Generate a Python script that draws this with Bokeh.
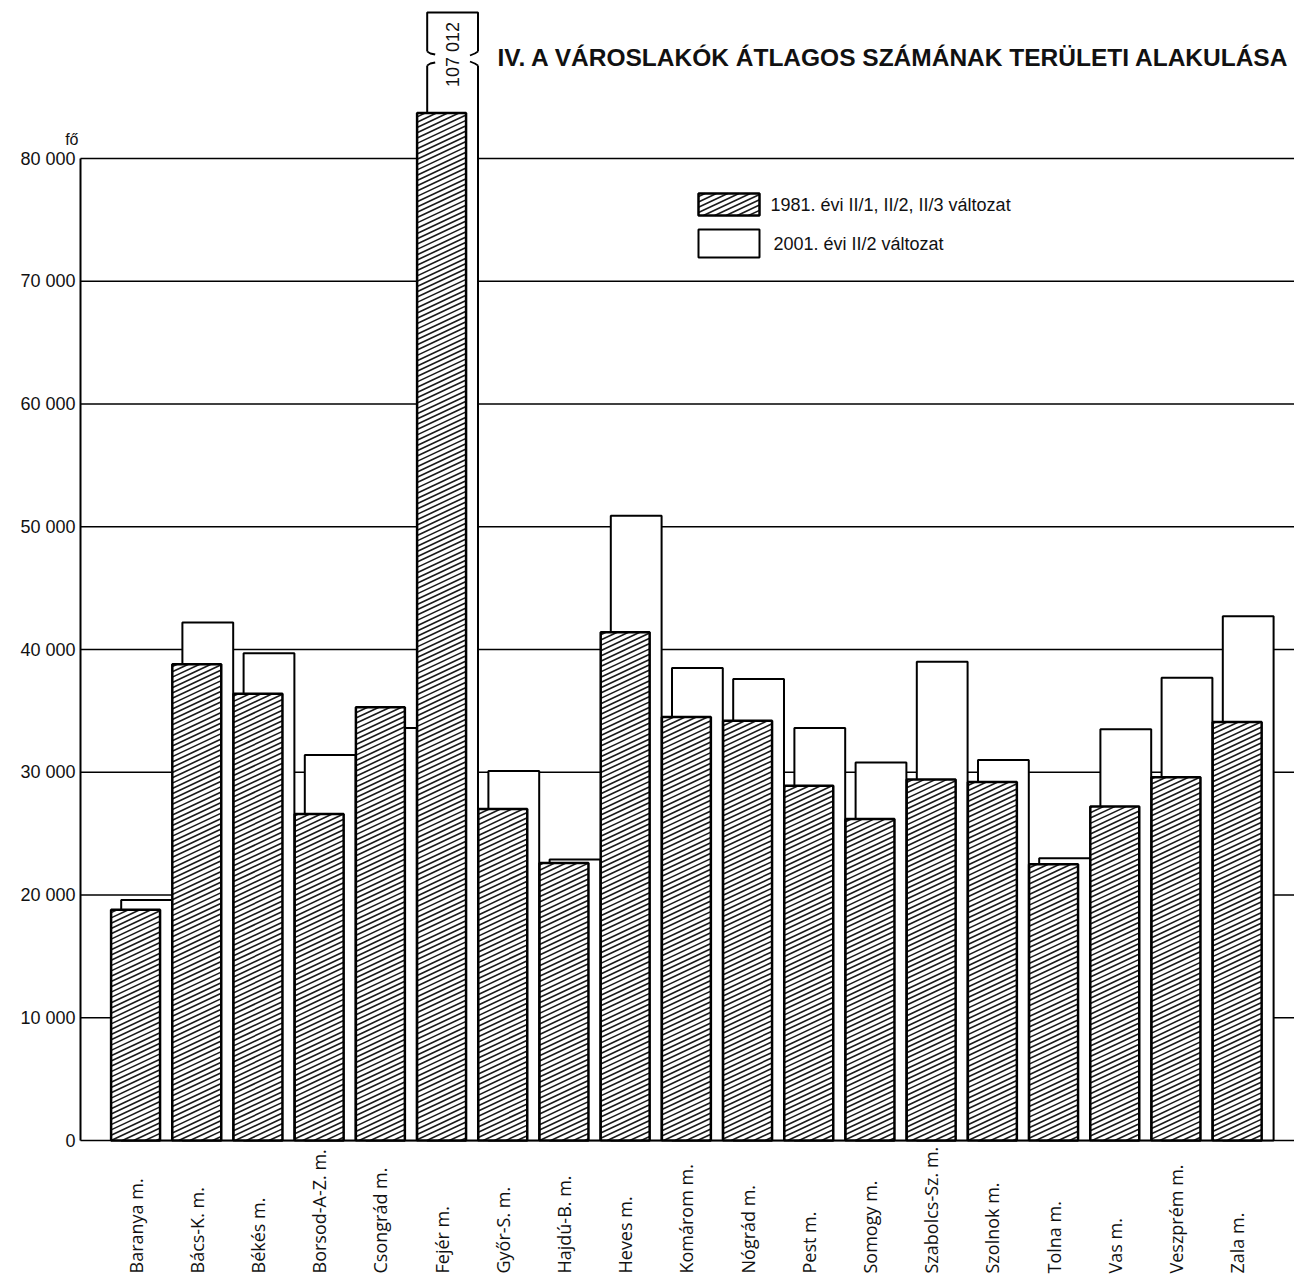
import math
from bokeh.plotting import figure
from bokeh.models import Range1d, FixedTicker, ColumnDataSource, Label, LinearAxis
from bokeh.core.properties import value
from bokeh.embed import file_html
from bokeh.resources import INLINE

# ---------------- data ----------------
counties = ["Baranya m.", "Bács-K. m.", "Békés m.", "Borsod-A-Z. m.", "Csongrád m.",
            "Fejér m.", "Győr-S. m.", "Hajdú-B. m.", "Heves m.", "Komárom m.",
            "Nógrád m.", "Pest m.", "Somogy m.", "Szabolcs-Sz. m.", "Szolnok m.",
            "Tolna m.", "Vas m.", "Veszprém m.", "Zala m."]
v1981 = [18800, 38800, 36400, 26600, 35300, 83700, 27000, 22600, 41400, 34500,
         34200, 28900, 26200, 29400, 29200, 22500, 27200, 29600, 34100]
v2001 = [19600, 42200, 39700, 31400, 33600, 107012, 30100, 22900, 50900, 38500,
         37600, 33600, 30800, 39000, 31000, 23000, 33500, 37700, 42700]
y_ticks = [0, 10000, 20000, 30000, 40000, 50000, 60000, 70000, 80000]
y_tick_labels = ["0", "10 000", "20 000", "30 000", "40 000", "50 000",
                 "60 000", "70 000", "80 000"]
legend_labels = ["1981. évi II/1, II/2, II/3 változat", "2001. évi II/2 változat"]
title_text = "IV. A VÁROSLAKÓK ÁTLAGOS SZÁMÁNAK TERÜLETI ALAKULÁSA"
unit_label = "fő"

# ---------------- layout (frame = whole canvas) ----------------
W, H = 1294, 1283
AXIS_PX, BASE_PX = 80, 1140       # page px of value axis and of zero line
SX = 61.2                         # px per category
SY = 982 / 80000                  # px per person
X_AXIS = -0.5                     # data x of the value axis
x_start = X_AXIS - AXIS_PX / SX
x_end = x_start + W / SX
y_end = BASE_PX / SY
y_start = -(H - BASE_PX) / SY


def px2x(px):
    return x_start + px / SX


def py2y(py):
    return (BASE_PX - py) / SY


HW = 0.80             # hatched bar width
WO, WW = 0.165, 0.83  # white bar offset and width
CAP = py2y(12)        # display cap (axis break)

p = figure(width=W, height=H, output_backend="svg", toolbar_location=None,
           x_range=Range1d(x_start, x_end), y_range=Range1d(y_start, y_end),
           x_axis_type=None, y_axis_type=None,
           min_border=0, min_border_left=0, min_border_right=0,
           min_border_top=0, min_border_bottom=0)
p.outline_line_color = None
p.background_fill_color = "white"
p.border_fill_color = "white"

# grid lines (drawn under the bars)
p.segment(x0=[X_AXIS] * len(y_ticks), y0=y_ticks, x1=[x_end] * len(y_ticks), y1=y_ticks,
          line_color="black", line_width=1.5)

ax = LinearAxis(ticker=FixedTicker(ticks=y_ticks), fixed_location=X_AXIS)
ax.major_label_overrides = {t: l for t, l in zip(y_ticks, y_tick_labels)}
ax.bounds = (0, 80000)
ax.axis_line_width = 2
ax.axis_line_color = "black"
ax.major_tick_out = 0
ax.major_tick_in = 0
ax.minor_tick_out = 0
ax.minor_tick_in = 0
ax.major_label_standoff = 5
ax.major_label_text_font = "Liberation Sans"
ax.major_label_text_font_size = "18px"
ax.major_label_text_color = "#111111"
p.add_layout(ax, "left")

n = len(counties)
idx = list(range(n))
w_top = [min(v, CAP) for v in v2001]
wsrc = ColumnDataSource(dict(l=[i + WO for i in idx], r=[i + WO + WW for i in idx],
                             b=[0] * n, t=w_top))
p.quad(left="l", right="r", bottom="b", top="t", source=wsrc,
       fill_color="white", line_color="black", line_width=2)

# axis break on the out-of-range bar
for i, v in enumerate(v2001):
    if v > CAP:
        wl, wr = i + WO, i + WO + WW
        g_hi, g_lo = py2y(51), py2y(65)
        dx = 3 / SX
        p.quad(left=[wl - dx, wr - dx], right=[wl + dx, wr + dx],
               bottom=[g_lo, g_lo], top=[g_hi, g_hi],
               fill_color="white", line_color=None)
        hk = 8 / SX
        p.multi_line(xs=[[wl, wl + hk * 0.4, wl + hk], [wl + hk, wl + hk * 0.4, wl],
                         [wr, wr - hk * 0.4, wr - hk], [wr - hk, wr - hk * 0.4, wr]],
                     ys=[[g_hi, g_hi - 2 / SY, g_hi - 3 / SY], [g_lo + 3 / SY, g_lo + 2 / SY, g_lo],
                         [g_hi, g_hi - 2 / SY, g_hi - 4 / SY], [g_lo + 4 / SY, g_lo + 2 / SY, g_lo]],
                     line_color="black", line_width=1.8)
        p.add_layout(Label(x=(wl + wr) / 2, y=py2y(54), text=f"{v:,}".replace(",", " "),
                           angle=math.pi / 2, text_align="center", text_baseline="middle",
                           text_font="Liberation Sans", text_font_size="18px",
                           text_color="#111111"))


def hatch(lefts, rights, bottoms, tops, m=0.47, d=5.3):
    x0s, y0s, x1s, y1s = [], [], [], []
    for l, r, b, t in zip(lefts, rights, bottoms, tops):
        xl, xr, yb, yt = l * SX, r * SX, b * SY, t * SY
        kmin = math.floor((yb - m * xr) / d)
        kmax = math.ceil((yt - m * xl) / d)
        for k in range(kmin, kmax + 1):
            c = k * d
            lo = max(xl, (yb - c) / m)
            hi = min(xr, (yt - c) / m)
            if hi - lo > 0.4:
                x0s.append(lo / SX); y0s.append((m * lo + c) / SY)
                x1s.append(hi / SX); y1s.append((m * hi + c) / SY)
    return dict(x0=x0s, y0=y0s, x1=x1s, y1=y1s)


hsrc = ColumnDataSource(dict(l=[float(i) for i in idx], r=[i + HW for i in idx],
                             b=[0] * n, t=v1981))
p.quad(left="l", right="r", bottom="b", top="t", source=hsrc,
       fill_color="white", line_color=None)
p.segment(x0="x0", y0="y0", x1="x1", y1="y1",
          source=ColumnDataSource(hatch(hsrc.data["l"], hsrc.data["r"], hsrc.data["b"], hsrc.data["t"])),
          line_color="#1a1a1a", line_width=1.6)
p.quad(left="l", right="r", bottom="b", top="t", source=hsrc,
       fill_color=None, line_color="black", line_width=2.5)

# category labels
lsrc = ColumnDataSource(dict(x=[i + HW / 2 for i in idx], y=[py2y(1273)] * n, text=counties))
p.text(x="x", y="y", text="text", source=lsrc, angle=math.pi / 2,
       text_align="left", text_baseline="middle",
       text_font=value("Open Sans"), text_font_size="18px", text_color="#111111")

# legend
lx0, lx1 = px2x(698), px2x(759)
hb = [py2y(215)], [py2y(193)]
p.quad(left=[lx0], right=[lx1], bottom=hb[0], top=hb[1], fill_color="white", line_color=None)
p.segment(x0="x0", y0="y0", x1="x1", y1="y1",
          source=ColumnDataSource(hatch([lx0], [lx1], hb[0], hb[1])),
          line_color="#1a1a1a", line_width=1.6)
p.quad(left=[lx0], right=[lx1], bottom=hb[0], top=hb[1], fill_color=None,
       line_color="black", line_width=2.5)
p.quad(left=[lx0], right=[lx1], bottom=[py2y(257)], top=[py2y(229)], fill_color="white",
       line_color="black", line_width=2)
for txt, px, py in zip(legend_labels, [770, 773], [204, 243]):
    p.add_layout(Label(x=px2x(px), y=py2y(py), text=txt, text_align="left",
                       text_baseline="middle", text_font="Liberation Sans",
                       text_font_size="18px", text_color="#111111"))

# title and unit
p.add_layout(Label(x=px2x(497), y=py2y(57), text=title_text, text_align="left",
                   text_baseline="middle", text_font="Liberation Sans",
                   text_font_style="bold", text_font_size="24.5px", text_color="#111111"))
p.add_layout(Label(x=px2x(78), y=py2y(139), text=unit_label, text_align="right",
                   text_baseline="middle", text_font="Liberation Sans",
                   text_font_size="16px", text_color="#111111"))

open("out.html", "w").write(file_html(p, INLINE))
